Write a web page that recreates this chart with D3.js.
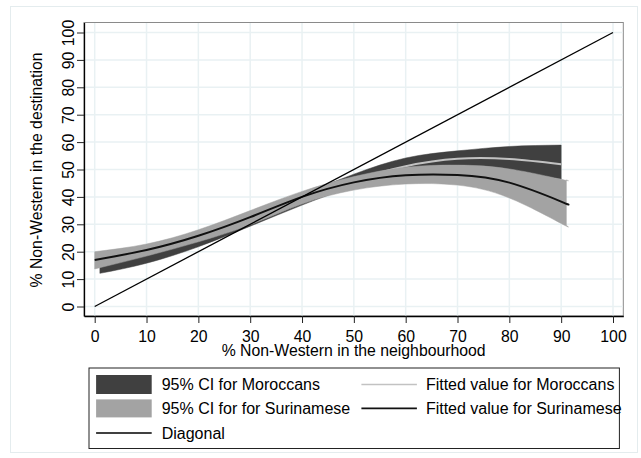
<!DOCTYPE html>
<html>
<head>
<meta charset="utf-8">
<script src="https://cdn.jsdelivr.net/npm/d3@7"></script>
<style>
  html, body { margin: 0; padding: 0; background: #ffffff; }
  svg { display: block; }
  text { font-family: "Liberation Sans", Arial, Helvetica, sans-serif; fill: #000; }
</style>
</head>
<body>
<svg id="chart" width="641" height="458"></svg>
<script>
// ---------------- data ----------------
const xTicks = [0, 10, 20, 30, 40, 50, 60, 70, 80, 90, 100];
const yTicks = [0, 10, 20, 30, 40, 50, 60, 70, 80, 90, 100];

// Surinamese: fitted value and 95% CI
const surX   = [0, 10, 20, 30, 40, 50, 60, 70, 80, 90, 91];
const surFit = [17.0, 20.6, 25.8, 32.6, 40.0, 45.3, 47.9, 48.0, 45.2, 38.3, 37.5];
const surLo  = [13.7, 18.4, 23.6, 29.8, 37.4, 42.5, 44.7, 44.3, 39.6, 30.3, 29.6];
const surHi  = [20.0, 22.8, 28.0, 35.0, 42.0, 47.4, 50.8, 51.6, 50.2, 46.4, 46.2];

// Moroccans: fitted value and 95% CI
const morX   = [1, 10, 20, 30, 40, 50, 60, 70, 80, 90];
const morFit = [15.6, 19.3, 24.8, 31.6, 39.0, 46.0, 51.2, 53.9, 53.8, 51.9];
const morLo  = [12.1, 15.8, 21.8, 29.3, 37.0, 43.8, 48.3, 50.2, 49.4, 46.5];
const morHi  = [18.5, 22.1, 27.5, 33.8, 41.0, 48.3, 54.2, 56.8, 58.4, 58.9];

// Diagonal
const diagX = [0, 100];
const diagY = [0, 100];

const xTitle = "% Non-Western in the neighbourhood";
const yTitle = "% Non-Western in the destination";
const legendLabels = [
  "95% CI for Moroccans",
  "95% CI for for Surinamese",
  "Diagonal",
  "Fitted value for Moroccans",
  "Fitted value for Surinamese"
];

// ---------------- layout ----------------
const plotL = 84, plotR = 623.3, plotT = 22.5, plotB = 316;
const x0px = 94.7, x100px = 613.0;
const y0px = 306.5, y100px = 32.5;

const xs = d3.scaleLinear().domain([0, 100]).range([x0px, x100px]);
const ys = d3.scaleLinear().domain([0, 100]).range([y0px, y100px]);
const x = d3.scaleLinear().domain([xs.invert(plotL), xs.invert(plotR)]).range([plotL, plotR]);
const y = d3.scaleLinear().domain([ys.invert(plotB), ys.invert(plotT)]).range([plotB, plotT]);

const DARK = "#404040", LIGHT = "#a3a3a3", MORLINE = "#c2c2c2", GRID = "#e9f1f3";
const FONT = 15.8;

const svg = d3.select("#chart");

// outer graph frame
svg.append("rect").attr("x", 10.5).attr("y", 6.5).attr("width", 627).attr("height", 446)
  .attr("fill", "#fff").attr("stroke", "#e4ecee").attr("stroke-width", 1);

// plot region border
svg.append("rect").attr("x", plotL).attr("y", plotT).attr("width", plotR - plotL).attr("height", plotB - plotT)
  .attr("fill", "#fff").attr("stroke", "#8a8a8a").attr("stroke-width", 1);

// gridlines
const grid = svg.append("g");
grid.selectAll("line.gx").data(xTicks).join("line")
  .attr("x1", d => x(d)).attr("x2", d => x(d)).attr("y1", plotT + 0.5).attr("y2", plotB)
  .attr("stroke", GRID).attr("stroke-width", 1.5);
grid.selectAll("line.gy").data(yTicks).join("line")
  .attr("x1", plotL).attr("x2", plotR - 0.5).attr("y1", d => y(d)).attr("y2", d => y(d))
  .attr("stroke", GRID).attr("stroke-width", 1.5);

// clip
svg.append("clipPath").attr("id", "clip").append("rect")
  .attr("x", plotL).attr("y", plotT).attr("width", plotR - plotL).attr("height", plotB - plotT);
const plot = svg.append("g").attr("clip-path", "url(#clip)");

const mor = morX.map((v, i) => ({ x: v, fit: morFit[i], lo: morLo[i], hi: morHi[i] }));
const sur = surX.map((v, i) => ({ x: v, fit: surFit[i], lo: surLo[i], hi: surHi[i] }));
const diag = diagX.map((v, i) => ({ x: v, y: diagY[i] }));

const area = d3.area().curve(d3.curveNatural).x(d => x(d.x)).y0(d => y(d.lo)).y1(d => y(d.hi));
const fitLine = d3.line().curve(d3.curveNatural).x(d => x(d.x)).y(d => y(d.fit));

plot.append("path").datum(mor).attr("d", area).attr("fill", DARK).attr("stroke", DARK).attr("stroke-width", 0.5);
plot.append("path").datum(mor).attr("d", fitLine).attr("fill", "none").attr("stroke", MORLINE).attr("stroke-width", 2);
plot.append("path").datum(sur).attr("d", area).attr("fill", LIGHT).attr("stroke", LIGHT).attr("stroke-width", 0.5);
plot.append("path").datum(sur).attr("d", fitLine).attr("fill", "none").attr("stroke", "#111").attr("stroke-width", 2);
plot.append("path").datum(diag).attr("d", d3.line().x(d => x(d.x)).y(d => y(d.y)))
  .attr("fill", "none").attr("stroke", "#000").attr("stroke-width", 1.3);

// axes
const xAxis = svg.append("g").attr("transform", `translate(0,${plotB})`)
  .call(d3.axisBottom(x).tickValues(xTicks).tickSize(7).tickSizeOuter(0).tickFormat(d3.format("d")));
xAxis.select(".domain").attr("stroke", "#000").attr("stroke-width", 1.3);
xAxis.selectAll(".tick line").attr("stroke", "#222");
xAxis.selectAll(".tick text").attr("y", 25.5).attr("dy", 0)
  .style("font-size", FONT + "px").style("font-family", '"Liberation Sans", Arial, sans-serif').attr("fill", "#000");

const yAxis = svg.append("g").attr("transform", `translate(${plotL},0)`)
  .call(d3.axisLeft(y).tickValues(yTicks).tickSize(7).tickSizeOuter(0).tickFormat(d3.format("d")));
yAxis.select(".domain").attr("stroke", "#000").attr("stroke-width", 1.3);
yAxis.selectAll(".tick line").attr("stroke", "#222");
yAxis.selectAll(".tick text").attr("x", 0).attr("dy", 0)
  .attr("transform", "translate(-10,0) rotate(-90)").attr("text-anchor", "middle")
  .style("font-size", FONT + "px").style("font-family", '"Liberation Sans", Arial, sans-serif').attr("fill", "#000");

// axis titles
svg.append("text").attr("x", (plotL + plotR) / 2).attr("y", 355.5).attr("text-anchor", "middle")
  .style("font-size", "15.8px").text(xTitle);
svg.append("text").attr("transform", `translate(42.3,170) rotate(-90)`).attr("text-anchor", "middle")
  .style("font-size", "15.8px").text(yTitle);

// legend
const lg = svg.append("g");
lg.append("rect").attr("x", 89).attr("y", 368).attr("width", 530.4).attr("height", 80.5)
  .attr("fill", "#fff").attr("stroke", "#222").attr("stroke-width", 1);
const rowC = [384.5, 408.4, 433.0];
const c1x = 96.1, c1w = 55.6, t1x = 161.7;
const c2x = 361.4, c2w = 55.5, t2x = 425.9;
lg.append("rect").attr("x", c1x).attr("y", 375).attr("width", c1w).attr("height", 19).attr("fill", DARK);
lg.append("rect").attr("x", c1x).attr("y", 399.4).attr("width", c1w).attr("height", 18).attr("fill", LIGHT);
lg.append("line").attr("x1", c1x).attr("x2", c1x + c1w).attr("y1", rowC[2]).attr("y2", rowC[2])
  .attr("stroke", "#000").attr("stroke-width", 1.3);
lg.append("line").attr("x1", c2x).attr("x2", c2x + c2w).attr("y1", rowC[0]).attr("y2", rowC[0])
  .attr("stroke", MORLINE).attr("stroke-width", 1.6);
lg.append("line").attr("x1", c2x).attr("x2", c2x + c2w).attr("y1", rowC[1]).attr("y2", rowC[1])
  .attr("stroke", "#111").attr("stroke-width", 1.8);
const lgText = [
  [t1x, rowC[0], legendLabels[0]],
  [t1x, rowC[1], legendLabels[1]],
  [t1x, rowC[2], legendLabels[2]],
  [t2x, rowC[0], legendLabels[3]],
  [t2x, rowC[1], legendLabels[4]]
];
lg.selectAll("text.lt").data(lgText).join("text").attr("class", "lt")
  .attr("x", d => d[0]).attr("y", d => d[1] + 5.8).style("font-size", "16px").text(d => d[2]);
</script>
</body>
</html>
